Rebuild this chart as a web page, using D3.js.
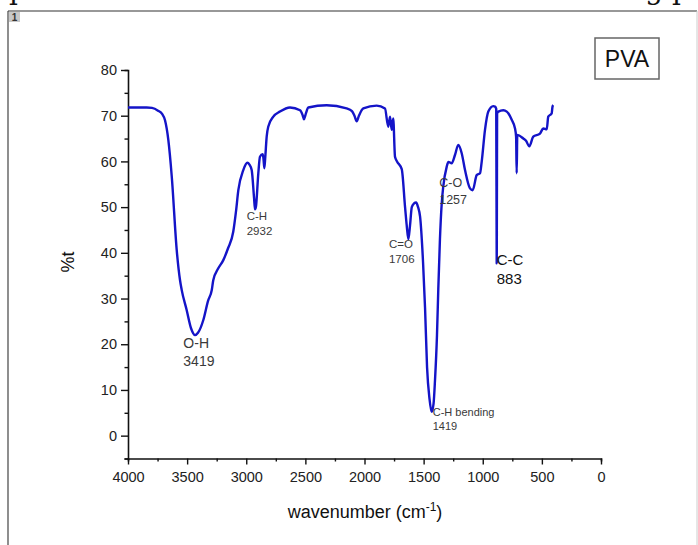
<!DOCTYPE html>
<html>
<head>
<meta charset="utf-8">
<script src="https://cdn.jsdelivr.net/npm/d3@7"></script>
<style>
  body { margin: 0; background: #fff; }
  svg { display: block; font-family: Arial, "Liberation Sans", sans-serif; }
</style>
</head>
<body>
<svg id="chart" width="698" height="545"></svg>
<script>
// spectrum (wavenumber in cm-1, transmittance in %)
const wavenumber = [4000, 3842, 3797, 3746, 3712, 3687, 3659, 3630, 3588, 3560, 3546, 3504, 3467, 3433, 3408,
  3363, 3323, 3292, 3279, 3239, 3194, 3154, 3110, 3087, 3067, 3025, 2991, 2973, 2954, 2934, 2926, 2918,
  2898, 2884, 2861, 2854, 2847, 2839, 2827, 2814, 2771, 2715, 2630, 2545, 2524, 2512, 2499, 2475, 2320,
  2151, 2106, 2085, 2066, 2047, 2010, 1897, 1827, 1799, 1784, 1770, 1757, 1742, 1725, 1685, 1657, 1643,
  1629, 1615, 1600, 1581, 1564, 1547, 1530, 1505, 1488, 1471, 1450, 1432, 1416, 1404, 1387, 1376, 1362,
  1347, 1334, 1305, 1291, 1263, 1235, 1207, 1178, 1150, 1108, 1085, 1051, 1023, 1009, 981, 953, 911, 896,
  886, 882, 878, 868, 826, 797, 755, 727, 718, 713, 708, 657, 634, 606, 573, 516, 488, 459, 446, 417, 410, 403];
const transmittance = [71.8, 71.8, 71.7, 71.1, 70.4, 69, 64.7, 56.7, 40.6, 34, 31.9, 27.5, 23.5, 22, 22.5,
  25.3, 29.5, 31.8, 34, 36.5, 38.4, 41, 44.6, 49, 53.7, 58.1, 59.7, 59.3, 58.1, 52, 49.5, 50.1,
  57.4, 61, 61.6, 60.5, 58.5, 61, 65.5, 67.6, 69.8, 70.9, 71.8, 71.2, 70.2, 69.2, 70.2, 71.8, 72.3,
  71.6, 71, 70, 68.8, 70, 71.6, 72.2, 71.6, 67.6, 69.8, 66.9, 69.4, 61, 60, 58.3, 50, 46,
  43, 46, 50, 50.8, 51, 50, 47.9, 38, 28, 15, 8, 5.2, 7, 12, 22, 32, 43,
  50.8, 54.5, 58.8, 59.9, 59.6, 61.4, 63.6, 61.8, 58.1, 54.1, 53.7, 57, 57.4, 59.9, 66.9, 70.9, 72.1, 72,
  71.5, 37.7, 70.5, 70.9, 71.2, 70.9, 69.1, 67.2, 65.4, 57.4, 65.8, 65, 64.5, 63.3, 65.4, 66.1, 67.2, 67, 69.8, 70.5, 72, 72.3];

// peak annotations
const peakGroup = ['O-H', 'C-H', 'C=O', 'C-O', 'C-C', 'C-H bending'];
const peakNumber = ['3419', '2932', '1706', '1257', '883', '1419'];
const peakLabelWn = [3532, 2996, 1793, 1368, 882, 1423];
const peakLabelT = [20.3, 48.1, 41.9, 55.2, 38.6, 5.2];
const peakFont = [14, 11.5, 11.5, 12.5, 15, 11];

const xTicks = [4000, 3500, 3000, 2500, 2000, 1500, 1000, 500, 0];
const yTicks = [0, 10, 20, 30, 40, 50, 60, 70, 80];

const svg = d3.select('#chart');

const x = d3.scaleLinear().domain([4000, 0]).range([128, 601]);
const y = d3.scaleLinear().domain([-5, 80]).range([458.5, 70]);

// page frame bits (crop of a document)
svg.append('line').attr('x1', 8).attr('x2', 697).attr('y1', 11).attr('y2', 11)
  .attr('stroke', '#333').attr('stroke-width', 1.2);
svg.append('line').attr('x1', 8).attr('x2', 8).attr('y1', 11).attr('y2', 545)
  .attr('stroke', '#444').attr('stroke-width', 1.2);
svg.append('line').attr('x1', 697).attr('x2', 697).attr('y1', 11).attr('y2', 545)
  .attr('stroke', '#ccc').attr('stroke-width', 1);
svg.append('rect').attr('x', 9).attr('y', 12).attr('width', 11).attr('height', 10).attr('fill', '#c8c8c8');
svg.append('text').attr('x', 14.5).attr('y', 21).attr('text-anchor', 'middle')
  .attr('font-size', 10).attr('font-weight', 'bold').attr('fill', '#333').text('1');
// text of the page above, cut by the crop
svg.append('text').attr('x', 9).attr('y', -1).attr('font-family', '"DejaVu Serif", serif')
  .attr('font-size', 28).attr('fill', '#111').text('p');
svg.append('text').attr('x', 690).attr('y', -1).attr('text-anchor', 'end').attr('font-family', '"DejaVu Serif", serif')
  .attr('font-size', 28).attr('fill', '#111').text('g p');

// axes
const xAxis = svg.append('g').attr('transform', `translate(0,${y(-5)})`);
xAxis.call(d3.axisBottom(x).tickValues(d3.range(0, 4001, 250)).tickSize(3).tickFormat(''));
xAxis.call(g => g.selectAll('.tick').filter(d => d % 500 === 0).select('line').attr('y2', 6));
xAxis.selectAll('.tick').filter(d => xTicks.includes(d)).select('text')
  .text(d => d).attr('y', 13).attr('font-size', 14.5).attr('fill', '#222').attr('font-family', 'Arial, "Liberation Sans", sans-serif');

const yAxis = svg.append('g').attr('transform', `translate(${x(4000)},0)`);
yAxis.call(d3.axisLeft(y).tickValues(d3.range(-5, 81, 5)).tickSize(3.5).tickFormat(''));
yAxis.call(g => g.selectAll('.tick').filter(d => d % 10 === 0).select('line').attr('x2', -7));
yAxis.selectAll('.tick').filter(d => yTicks.includes(d)).select('text')
  .text(d => d).attr('x', -11).attr('font-size', 14.5).attr('fill', '#222').attr('font-family', 'Arial, "Liberation Sans", sans-serif');

svg.selectAll('.domain').attr('stroke', '#111').attr('stroke-width', 1.6);
svg.selectAll('.tick line').attr('stroke', '#111').attr('stroke-width', 1.4);

// axis titles
const xt = svg.append('text').attr('x', 365).attr('y', 518).attr('text-anchor', 'middle')
  .attr('font-size', 18).attr('fill', '#111');
xt.append('tspan').text('wavenumber (cm');
xt.append('tspan').attr('dy', -7).attr('font-size', 12).text('-1');
xt.append('tspan').attr('dy', 7).text(')');

svg.append('text').attr('transform', 'translate(74,262) rotate(-90)').attr('text-anchor', 'middle')
  .attr('font-size', 18).attr('fill', '#111').text('%t');

// spectrum (sorted ascending so monotone smoothing never overshoots)
const pts = wavenumber.map((w, i) => [w, transmittance[i]]).sort((a, b) => a[0] - b[0]);
svg.append('path').datum(pts)
  .attr('fill', 'none').attr('stroke', '#1414c8').attr('stroke-width', 2.4)
  .attr('stroke-linejoin', 'round')
  .attr('d', d3.line().curve(d3.curveMonotoneX).x(d => x(d[0])).y(d => y(d[1])));

// peak labels
peakGroup.forEach((name, i) => {
  const px = x(peakLabelWn[i]), py = y(peakLabelT[i]);
  const fs = peakFont[i];
  const col = i === 4 ? '#111' : '#3a3a3a';
  svg.append('text').attr('x', px).attr('y', py).attr('dominant-baseline', 'central')
    .attr('font-size', fs).attr('fill', col).text(name);
  svg.append('text').attr('x', px).attr('y', py + fs * 1.3).attr('dominant-baseline', 'central')
    .attr('font-size', fs).attr('fill', col).text(peakNumber[i]);
});

// legend box
svg.append('rect').attr('x', 595).attr('y', 38).attr('width', 64).attr('height', 41)
  .attr('fill', '#fff').attr('stroke', '#666').attr('stroke-width', 1.5);
svg.append('text').attr('x', 627).attr('y', 59).attr('text-anchor', 'middle').attr('dominant-baseline', 'central')
  .attr('font-size', 23).attr('fill', '#111').text('PVA');
</script>
</body>
</html>
